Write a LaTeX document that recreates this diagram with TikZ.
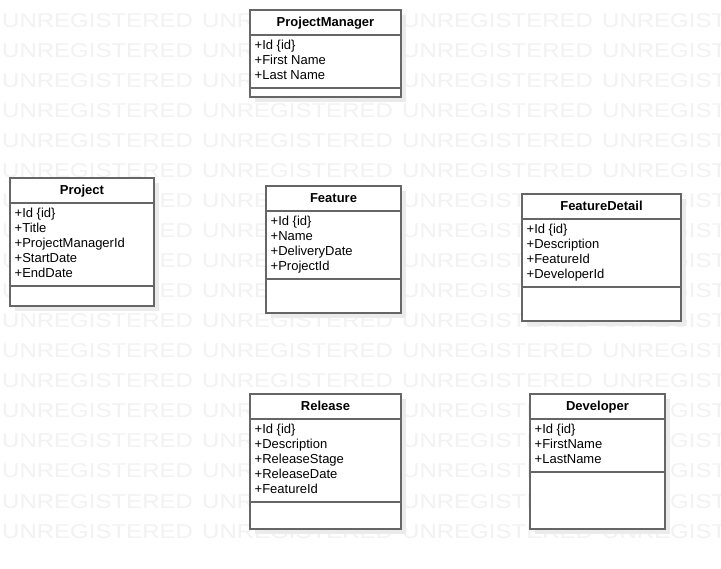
\documentclass[tikz,border=0pt]{standalone}
\usepackage{fontspec}
\setmainfont{Liberation Sans}
\usepackage{tikz}
\usetikzlibrary{shapes}

% #1 name, #2 left, #3 top, #4 width, #5 header, #6 attributes, #7 height, #8 title, #9 attribute lines
\newcommand{\classbox}[9]{
\fill[classshadow] (#2+5,#3+5) rectangle ++(#4,#7);
\draw[classline,fill=white] (#2,#3) rectangle ++(#4,#7);
\draw[classline] (#2,#3+#5) -- ++(#4,0);
\draw[classline] (#2,#3+#5+#6) -- ++(#4,0);
\node[classtitle] (#1) at (#2+#4/2,#3+17) {#8};
\node[classattr] (#1-attr) at (#2+4.5,#3+#5+4.8) {#9};
}

\begin{document}
\begin{tikzpicture}[x=1pt,y=-1pt]
\tikzstyle{classline}=[draw=black!60,line width=1.2pt]
\tikzstyle{classshadow}=[fill=black!8]
\tikzstyle{classtitle}=[anchor=base,inner sep=0pt,font=\fontsize{13}{15}\selectfont\bfseries]
\tikzstyle{classattr}=[anchor=north west,inner sep=0pt,align=left,font=\fontsize{13}{15}\selectfont]
\tikzstyle{watermark}=[anchor=base west,inner sep=0pt,xscale=1.2,text=black!5,font=\fontsize{20}{20}\selectfont]
\useasboundingbox (0,0) rectangle (721,569);
\clip (0,0) rectangle (721,569);
\fill[white] (0,0) rectangle (721,569);
% background text
\foreach \r in {0,...,17}
\foreach \c in {0,...,3}
\node[watermark] (wm-\r-\c) at (2+200*\c,28+30*\r) {UNREGISTERED};
% classes
\classbox{pm}{250}{10}{151}{25}{53}{87}{ProjectManager}{+Id \{id\}\\+First Name\\+Last Name}
\classbox{project}{10}{178}{144}{25}{83}{128}{Project}{+Id \{id\}\\+Title\\+ProjectManagerId\\+StartDate\\+EndDate}
\classbox{feature}{266}{186}{135}{25}{68}{127}{Feature}{+Id \{id\}\\+Name\\+DeliveryDate\\+ProjectId}
\classbox{detail}{522}{194}{159}{25}{68}{127}{FeatureDetail}{+Id \{id\}\\+Description\\+FeatureId\\+DeveloperId}
\classbox{release}{250}{394}{151}{25}{83}{135}{Release}{+Id \{id\}\\+Description\\+ReleaseStage\\+ReleaseDate\\+FeatureId}
\classbox{developer}{530}{394}{135}{25}{53}{135}{Developer}{+Id \{id\}\\+FirstName\\+LastName}
\end{tikzpicture}
\end{document}
